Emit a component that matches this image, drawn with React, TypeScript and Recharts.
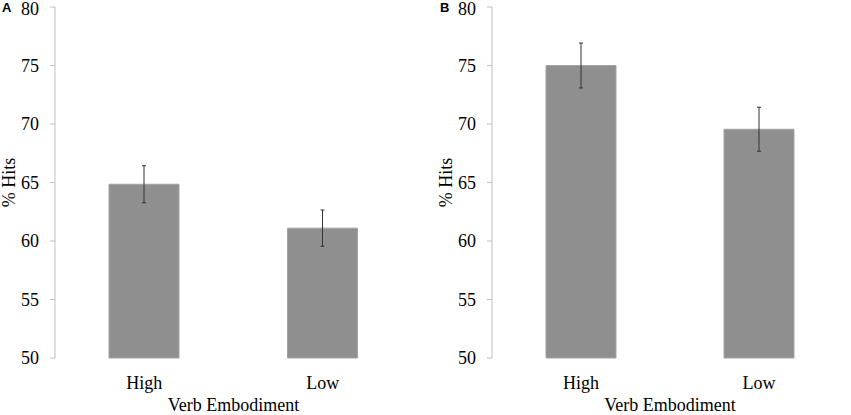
import { Bar, BarChart, ErrorBar, Label, XAxis, YAxis } from "recharts"

const categories = ["High", "Low"]
const positions = [0.5, 1.5]
const hitsA = [64.85, 61.1]
const errA = [1.58, 1.55]
const hitsB = [75.0, 69.55]
const errB = [1.92, 1.88]
const yTicks = [50, 55, 60, 65, 70, 75, 80]

const SERIF = "'Liberation Serif', 'Times New Roman', serif"
const AXIS = "#bfbfbf"

const buildRows = (hits: number[], errs: number[]) =>
  categories.map((name, i) => ({ name, pos: positions[i], hits: hits[i], err: errs[i] }))

// plain svg text so the serif font is applied for sure
function SerifTick(props: any) {
  const { x, y, payload, textAnchor, vertical } = props
  return (
    <text
      x={x}
      y={y}
      dy={vertical ? "0.35em" : "0.71em"}
      textAnchor={textAnchor}
      fontFamily={SERIF}
      fontSize={18}
      fill="#000"
    >
      {payload.value}
    </text>
  )
}

interface PanelProps {
  letter: string
  hits: number[]
  errs: number[]
  width: number
  yAxisWidth: number
  rightMargin: number
  labelDx: number
}

function Panel({ letter, hits, errs, width, yAxisWidth, rightMargin, labelDx }: PanelProps) {
  const data = buildRows(hits, errs)
  return (
    <div style={{ position: "relative", width, height: 415, fontFamily: SERIF }}>
      <BarChart
        width={width}
        height={415}
        data={data}
        margin={{ top: 7, right: rightMargin, bottom: 0, left: 0 }}
      >
        <XAxis
          xAxisId="grid"
          dataKey="pos"
          type="number"
          domain={[0, 2]}
          ticks={[0, 1, 2]}
          height={0}
          tickFormatter={() => ""}
          tickSize={6}
          stroke={AXIS}
          tickLine={{ stroke: AXIS }}
        />
        <XAxis
          xAxisId="cat"
          dataKey="name"
          height={57}
          axisLine={false}
          tickLine={false}
          tickSize={0}
          tickMargin={18}
          tick={<SerifTick />}
        >
          <Label
            value="Verb Embodiment"
            position="insideBottom"
            offset={4}
            style={{ fontFamily: SERIF, fontSize: 18, fill: "#000" }}
          />
        </XAxis>
        <YAxis
          domain={[50, 80]}
          ticks={yTicks}
          width={yAxisWidth}
          stroke={AXIS}
          tickSize={5}
          tickMargin={11}
          tick={<SerifTick vertical />}
        >
          <Label
            value="% Hits"
            angle={-90}
            position="center"
            dx={labelDx}
            style={{ fontFamily: SERIF, fontSize: 18, fill: "#000", textAnchor: "middle" }}
          />
        </YAxis>
        <Bar
          xAxisId="cat"
          dataKey="hits"
          barSize={70}
          fill="#8f8f8f"
          stroke="#a3a3a3"
          strokeWidth={1}
          isAnimationActive={false}
        >
          <ErrorBar dataKey="err" direction="y" width={2} stroke="#333" strokeWidth={1} />
        </Bar>
      </BarChart>
      <div
        style={{
          position: "absolute",
          left: letter === "A" ? 2 : 20,
          top: 0,
          fontFamily: "'Liberation Sans', Arial, sans-serif",
          fontWeight: "bold",
          fontSize: 13,
        }}
      >
        {letter}
      </div>
    </div>
  )
}

export default function App() {
  return (
    <div
      style={{
        position: "absolute",
        left: 0,
        top: 0,
        width: 851,
        height: 415,
        background: "#fff",
        display: "flex",
      }}
    >
      <Panel letter="A" hits={hitsA} errs={errA} width={420} yAxisWidth={55} rightMargin={8} labelDx={-18.5} />
      <Panel letter="B" hits={hitsB} errs={errB} width={431} yAxisWidth={72} rightMargin={3} labelDx={-10} />
    </div>
  )
}
